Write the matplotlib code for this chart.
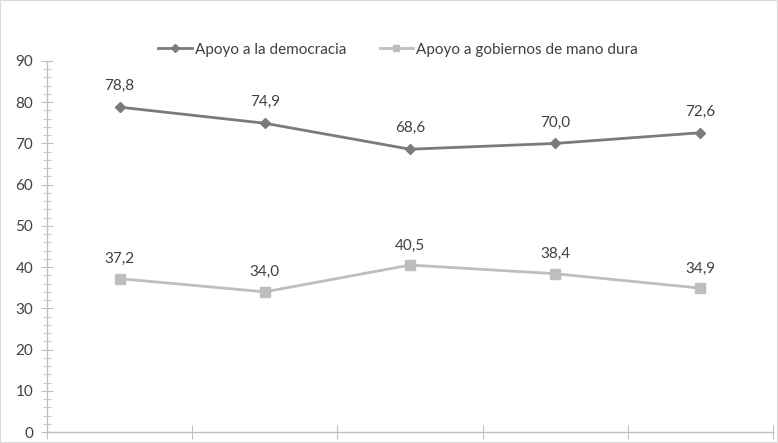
import matplotlib
matplotlib.use("Agg")
import matplotlib.pyplot as plt
from matplotlib.patches import Rectangle
from matplotlib.ticker import MultipleLocator, FixedLocator

plt.rcParams['font.family'] = ['Lato', 'DejaVu Sans']

categories = ["", "", "", "", ""]
democracia = [78.8, 74.9, 68.6, 70.0, 72.6]
mano_dura = [37.2, 34.0, 40.5, 38.4, 34.9]
series_names = ["Apoyo a la democracia", "Apoyo a gobiernos de mano dura"]

W, H = 778, 443
fig = plt.figure(figsize=(W / 100, H / 100), dpi=100)
ax = fig.add_axes([47 / W, 11 / H, (773 - 47) / W, (432 - 61) / H])

x = list(range(len(categories)))
dark = "#7b7b7b"
light = "#bebebe"
ax.plot(x, democracia, color=dark, lw=2.0, marker="D", ms=5.5, label=series_names[0])
ax.plot(x, mano_dura, color=light, lw=2.0, marker="s", ms=6.5, label=series_names[1])

for xi, v in zip(x, democracia):
    ax.annotate(f"{v:.1f}".replace(".", ","), (xi, v), xytext=(0, 10), textcoords="offset points",
                ha="center", va="bottom", fontsize=11, color="#404040")
for xi, v in zip(x, mano_dura):
    ax.annotate(f"{v:.1f}".replace(".", ","), (xi, v), xytext=(0, 9), textcoords="offset points",
                ha="center", va="bottom", fontsize=11, color="#404040")

ax.set_xlim(-0.5, len(x) - 0.5)
ax.set_ylim(0, 90)
ax.yaxis.set_major_locator(MultipleLocator(10))
ax.yaxis.set_minor_locator(MultipleLocator(2))
ax.xaxis.set_major_locator(FixedLocator([i - 0.5 for i in range(len(x) + 1)]))
ax.set_xticklabels([])

for s in ["top", "right"]:
    ax.spines[s].set_visible(False)
for s in ["left", "bottom"]:
    ax.spines[s].set_color("#c0c0c0")
    ax.spines[s].set_linewidth(1)

ax.tick_params(axis="y", which="major", direction="inout", length=8, color="#c0c0c0",
               labelsize=11, labelcolor="#404040", pad=6)
ax.tick_params(axis="y", which="minor", direction="inout", length=6, color="#c0c0c0")
ax.tick_params(axis="x", which="major", direction="inout", length=10, color="#c0c0c0")

ax.legend(loc="upper center", bbox_to_anchor=((398 - 47) / 726, 1 + (432 - 29 - 371) / 371),
          ncol=2, frameon=False, fontsize=11, handlelength=2.2, handletextpad=0.2,
          columnspacing=2.2, markerscale=0.75, labelcolor="#404040")

fig.patches.append(Rectangle((0, 0), 1, 1, transform=fig.transFigure, fill=False,
                             edgecolor="#d9d9d9", lw=1.5))

fig.savefig("out.png", dpi=100)
